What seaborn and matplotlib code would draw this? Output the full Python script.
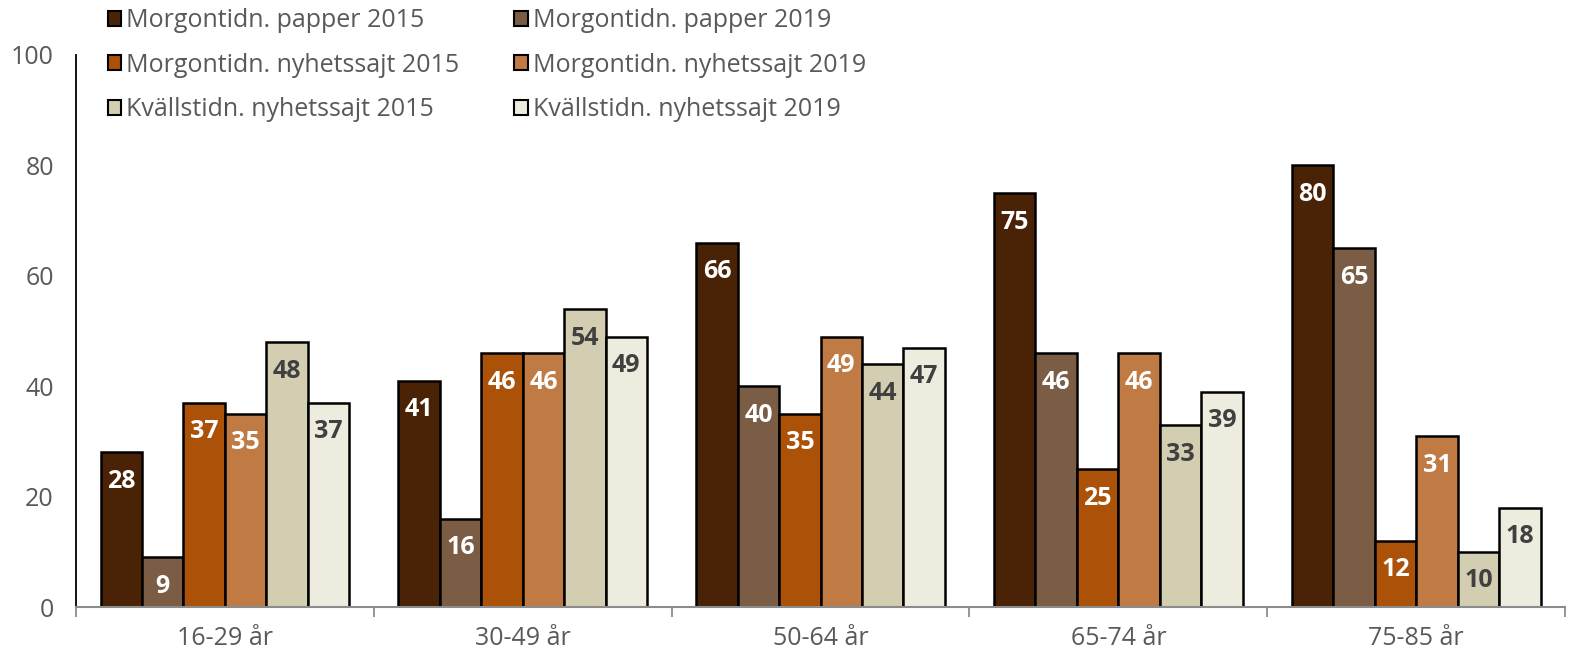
import pandas as pd
import numpy as np
import matplotlib
matplotlib.use("Agg")
import matplotlib.pyplot as plt
import seaborn as sns
from matplotlib.patches import Patch

# data
age_groups = ["16-29 år", "30-49 år", "50-64 år", "65-74 år", "75-85 år"]
series = [
    "Morgontidn. papper 2015",
    "Morgontidn. papper 2019",
    "Morgontidn. nyhetssajt 2015",
    "Morgontidn. nyhetssajt 2019",
    "Kvällstidn. nyhetssajt 2015",
    "Kvällstidn. nyhetssajt 2019",
]
papper_2015 = [28, 41, 66, 75, 80]
papper_2019 = [9, 16, 40, 46, 65]
nyhet_2015 = [37, 46, 35, 25, 12]
nyhet_2019 = [35, 46, 49, 46, 31]
kvall_2015 = [48, 54, 44, 33, 10]
kvall_2019 = [37, 49, 47, 39, 18]

colors = ["#4a2306", "#7b5c45", "#ab5108", "#c07a44", "#d3cdb1", "#eeebdf"]
label_colors = ["white", "white", "white", "white", "#404040", "#404040"]

values = [papper_2015, papper_2019, nyhet_2015, nyhet_2019, kvall_2015, kvall_2019]
df = pd.DataFrame(
    [(age, s, v[i]) for s, v in zip(series, values) for i, age in enumerate(age_groups)],
    columns=["age", "series", "value"],
)

sns.set_theme(style="white")
plt.rcParams["font.family"] = ["Open Sans", "DejaVu Sans"]

fig = plt.figure(figsize=(15.73, 6.52), dpi=100)
ax = fig.add_axes([0.0483, 0.069, 0.9467, 0.8467])

sns.barplot(
    data=df, x="age", y="value", hue="series",
    order=age_groups, hue_order=series, palette=colors, saturation=1,
    width=0.835, gap=0, edgecolor="black", linewidth=1.8,
    legend=False, ax=ax,
)

# value labels inside the top of each bar
for cont, lc in zip(ax.containers, label_colors):
    for bar in cont:
        h = bar.get_height()
        ax.annotate(f"{h:.0f}", (bar.get_x() + bar.get_width() / 2, h),
                    xytext=(0, -21), textcoords="offset points",
                    ha="center", va="center", color=lc,
                    fontsize=18, fontweight="bold")

ax.set_ylim(0, 100)
ax.set_xlim(-0.5, len(age_groups) - 0.5)
ax.set_yticks(range(0, 101, 20))
ax.set_xlabel("")
ax.set_ylabel("")
ax.tick_params(axis="y", length=0, pad=16, labelsize=18, labelcolor="#595959")
ax.tick_params(axis="x", which="major", length=0, pad=14, labelsize=18, labelcolor="#595959")
ax.set_xticks(np.arange(-0.5, len(age_groups)), minor=True)
ax.tick_params(axis="x", which="minor", bottom=True, length=7, width=1.3, color="#8c8c8c")

for side in ["top", "right"]:
    ax.spines[side].set_visible(False)
ax.spines["left"].set_color("black")
ax.spines["left"].set_linewidth(1.3)
ax.spines["bottom"].set_color("#8c8c8c")
ax.spines["bottom"].set_linewidth(1.5)

# legend: 2015 series in the left column, 2019 in the right
handles = [Patch(facecolor=c, edgecolor="black", linewidth=1.5) for c in colors]
order = [0, 2, 4, 1, 3, 5]
fig.legend([handles[i] for i in order], [series[i] for i in order],
           loc="upper left", bbox_to_anchor=(0.062, 1.003), ncol=2,
           frameon=False, fontsize=18, labelcolor="#595959",
           handlelength=0.55, handleheight=0.55, handletextpad=0.2,
           columnspacing=2.2, labelspacing=0.78, borderaxespad=0.0)

fig.savefig("out.png", dpi=100)
